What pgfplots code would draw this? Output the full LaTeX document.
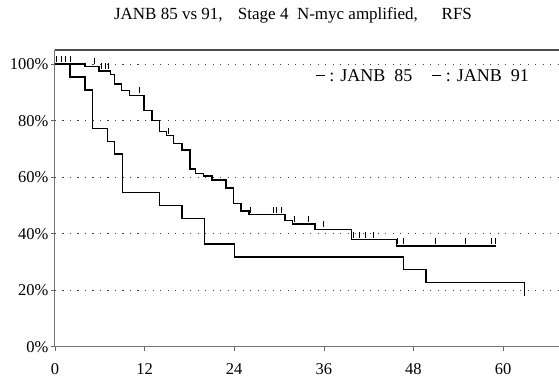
\documentclass[border=0pt]{standalone}
\usepackage{pgfplots}
\pgfplotsset{compat=1.18}
\usepackage{fontspec}
\setmainfont{Liberation Serif}
\pgfdeclareplotmark{cens}{\pgfpathmoveto{\pgfpoint{0pt}{2pt}}\pgfpathlineto{\pgfpoint{0pt}{8pt}}\pgfusepathqstroke}
\pgfdeclareplotmark{censdown}{\pgfpathmoveto{\pgfpoint{0pt}{0pt}}\pgfpathlineto{\pgfpoint{0pt}{-13pt}}\pgfusepathqstroke}
\begin{document}
\begin{tikzpicture}
\useasboundingbox (-55pt,-35.3pt) rectangle (504pt,346.8pt);
\begin{axis}[
  at={(0pt,0pt)}, anchor=south west,
  scale only axis, width=504pt, height=296.8pt,
  xmin=0, xmax=67.5, ymin=0, ymax=105,
  axis x line=bottom, axis y line=left,
  axis line style={-, black!55, line width=1pt},
  xtick={0,12,24,36,48,60}, xticklabels={0,12,24,36,48,60},
  ytick={0,20,40,60,80,100}, yticklabels={0\%,20\%,40\%,60\%,80\%,100\%},
  tick align=outside, major tick length=4pt,
  tick style={black!60, line width=0.6pt},
  ymajorgrids, grid style={black!75, line width=0.9pt, dash pattern=on 1.2pt off 6.3pt},
  ticklabel style={font=\fontsize{16.5}{17}\selectfont},
  xticklabel style={yshift=-9pt},
  yticklabel style={xshift=1pt},
  clip=false,
]
\draw[black!70, line width=1.2pt] (rel axis cs:0,1) -- (rel axis cs:1,1);
% lower curve
\addplot[const plot mark left, black, line width=1.4pt] coordinates {
(0,100) (2.0,95.45) (4.0,90.9) (5.0,77.27) (7.0,72.73) (8.0,68.18) (9.0,54.55)
(14.0,50) (17.0,45.45) (20.0,36.36) (24.0,31.82) (46.7,27.27) (49.7,22.73) (62.9,22.73)};
\addplot[only marks, mark=censdown, black, mark options={line width=1pt}] coordinates {(62.9,22.73)};
% upper curve
\addplot[const plot mark left, black, line width=1.4pt] coordinates {
(0,100) (4.0,99.2) (5.9,97.6) (7.4,96.4) (8.0,93.0) (8.9,90.6) (10.0,89.0) (11.9,83.5)
(13.0,80.0) (14.0,76.1) (14.9,74.7) (15.9,71.9) (17.0,69.6) (18.1,62.9) (18.8,61.4)
(19.9,60.4) (21.0,59.0) (22.9,56.2) (23.9,50.6) (24.9,48.0) (26.0,46.7) (30.8,44.7)
(31.8,43.4) (34.8,41.5) (39.7,37.9) (45.7,35.6) (59.0,35.6)};
\addplot[only marks, mark=cens, black, mark options={line width=0.7pt}] coordinates {
(0.2,100) (0.9,100) (1.4,100) (2.1,100) (5.3,99.2) (6.25,97.6) (6.7,97.6) (7.1,97.6)
(11.3,89.0) (15.2,74.7) (26.2,46.7) (29.2,46.7) (29.7,46.7) (30.3,46.7) (32.0,43.4)
(33.9,43.4) (36.0,41.5) (39.9,37.9) (40.7,37.9) (41.6,37.9) (42.6,37.9) (45.9,35.6)
(46.6,35.6) (51.0,35.6) (55.0,35.6) (58.5,35.6) (59.0,35.6)};
\node[font=\fontsize{18}{18}\selectfont] at (axis cs:49.2,96.1) {\rule[0.3em]{0.5em}{1pt}\ : JANB\ \ 85\hspace{1.1em}\rule[0.3em]{0.5em}{1pt}\ : JANB\ \ 91};
\end{axis}
\node[font=\fontsize{17}{17}\selectfont] at (238pt,331.7pt) {JANB 85 vs 91,\hspace{0.9em}Stage 4\hspace{0.5em}N-myc amplified,\hspace{1.4em}RFS};
\end{tikzpicture}
\end{document}
